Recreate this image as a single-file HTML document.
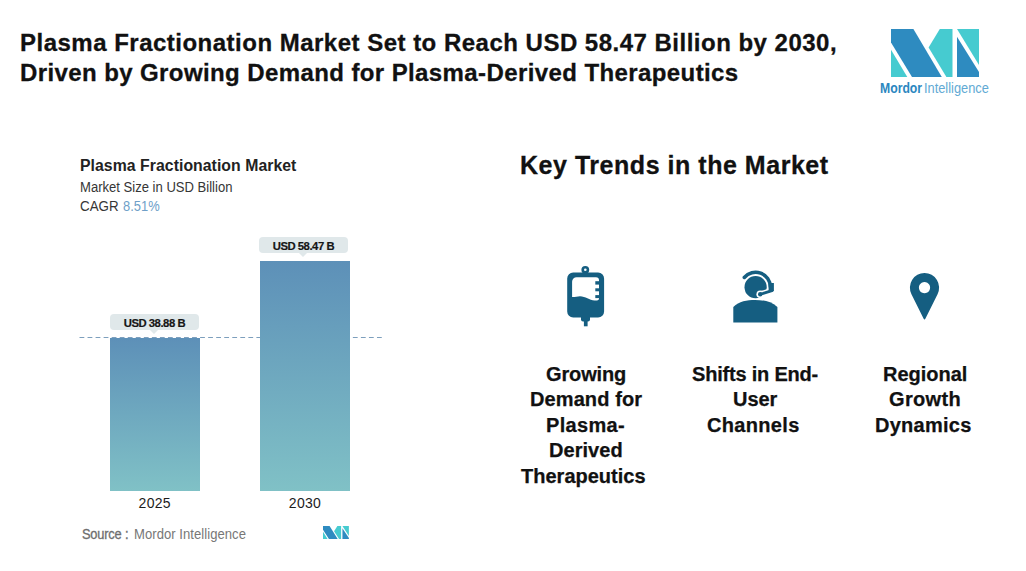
<!DOCTYPE html>
<html><head><meta charset="utf-8">
<style>
*{margin:0;padding:0;box-sizing:border-box}
html,body{width:1026px;height:571px;overflow:hidden;background:#fff;font-family:"Liberation Sans",sans-serif}
.a{position:absolute;white-space:nowrap}
.title{left:20px;font-weight:bold;font-size:24px;color:#111;line-height:30px;-webkit-text-stroke:0.3px #111}
.ct{left:80px;top:157px;font-weight:bold;font-size:15.8px;color:#222;letter-spacing:0.05px}
.sub{left:80px;font-size:15.2px;color:#363636;transform-origin:0 0;transform:scaleX(0.86)}
.bar{position:absolute;background:linear-gradient(#5d90b8,#80c1c6)}
.lbl{position:absolute;height:15.9px;background:#e0e8ea;border-radius:4px;font-weight:bold;font-size:11.3px;color:#161616;letter-spacing:-0.47px;text-align:center;line-height:18.1px;padding-left:0.6px;-webkit-text-stroke:0.2px #161616}
.lbl:after{content:"";position:absolute;left:50%;margin-left:-4px;top:15.9px;border-left:4.2px solid transparent;border-right:4.2px solid transparent;border-top:4.3px solid #e0e8ea}
.yr{font-size:14px;color:#1c1c1c;letter-spacing:0.3px}
.kt{left:520px;top:151px;font-weight:bold;font-size:25px;color:#111;letter-spacing:0.53px;-webkit-text-stroke:0.3px #111}
.cap{font-weight:bold;font-size:20px;line-height:22px;color:#111;-webkit-text-stroke:0.25px #111}
</style></head><body>
<div class="a title" style="top:27.5px;letter-spacing:0.49px">Plasma Fractionation Market Set to Reach USD 58.47 Billion by 2030,</div>
<div class="a title" style="top:57.5px;letter-spacing:0.40px">Driven by Growing Demand for Plasma-Derived Therapeutics</div>

<!-- logo -->
<svg class="a" style="left:891px;top:29px" width="88" height="48" viewBox="0 0 88 48">
<polygon fill="#2e8bc0" points="0,0 22.4,0 50.8,48 21,48 0,13.4"/>
<polygon fill="#46cbd0" points="0,20.7 0,48 16.3,48"/>
<polygon fill="#46cbd0" points="48.8,0 61.5,0 61.5,48 55.4,48 37.6,18.5"/>
<polygon fill="#46cbd0" points="66,0 88,0 88,36"/>
<polygon fill="#2e8bc0" points="66,7.8 66,48 88,48 88,43"/>
</svg>
<div id="m1" class="a" style="left:880.3px;top:80.2px;font-size:14.9px;font-weight:bold;color:#2b87bf;transform-origin:0 0;transform:scaleX(0.82)">Mordor</div>
<div id="m2" class="a" style="left:924px;top:80.2px;font-size:14.9px;color:#62aad4;transform-origin:0 0;transform:scaleX(0.86)">Intelligence</div>

<!-- chart -->
<div class="a ct">Plasma Fractionation Market</div>
<div id="s1" class="a sub" style="top:178px">Market Size in USD Billion</div>
<div id="s2" class="a sub" style="top:197px;transform:scaleX(0.88)">CAGR</div>
<div id="s3" class="a sub" style="top:197px;left:123px;color:#6f9fc8;transform:scaleX(0.85)">8.51%</div>

<svg class="a" style="left:0;top:330px" width="400" height="15"><line x1="79.5" y1="7.55" x2="382" y2="7.55" stroke="#7d9fbd" stroke-width="1.1" stroke-dasharray="4.8 3.24"/></svg>
<div class="bar" style="left:110px;top:337.5px;width:90px;height:153px"></div>
<div class="bar" style="left:260px;top:261px;width:90px;height:229.5px"></div>
<div class="lbl" style="left:109.6px;top:314px;width:89px">USD 38.88 B</div>
<div class="lbl" style="left:258.6px;top:237.3px;width:89px">USD 58.47 B</div>
<div class="a yr" style="left:138.6px;top:495px">2025</div>
<div class="a yr" style="left:288.8px;top:495px">2030</div>

<div id="src1" class="a" style="left:82px;top:526.5px;font-size:13.8px;color:#6e6e6e;letter-spacing:-0.2px;-webkit-text-stroke:0.3px #6e6e6e;transform-origin:0 0;transform:scaleX(0.93)">Source :</div>
<div id="src2" class="a" style="left:134px;top:526.5px;font-size:13.8px;color:#777;letter-spacing:0.05px;transform-origin:0 0;transform:scaleX(0.947)">Mordor Intelligence</div>
<svg class="a" style="left:323px;top:525.9px" width="25.9" height="13.4" viewBox="0 0 88 48" preserveAspectRatio="none">
<polygon fill="#2e8bc0" points="0,0 22.4,0 50.8,48 21,48 0,13.4"/>
<polygon fill="#46cbd0" points="0,20.7 0,48 16.3,48"/>
<polygon fill="#46cbd0" points="48.8,0 61.5,0 61.5,48 55.4,48 37.6,18.5"/>
<polygon fill="#46cbd0" points="66,0 88,0 88,36"/>
<polygon fill="#2e8bc0" points="66,7.8 66,48 88,48 88,43"/>
</svg>

<!-- trends -->
<div class="a kt">Key Trends in the Market</div>

<!-- IV bag -->
<svg class="a" style="left:555px;top:260px" width="60" height="75" viewBox="0 0 60 75">
<g fill="#155e81">
<circle cx="30.3" cy="9.8" r="3.9"/>
<path fill-rule="evenodd" d="M18.2,12.4 h24.9 a6,6 0 0 1 6,6 v33.2 a6,6 0 0 1 -6,6 h-24.9 a6,6 0 0 1 -6,-6 v-33.2 a6,6 0 0 1 6,-6 z
M21.6,17.2 h19.4 a3,3 0 0 1 3,3 v18.3 a2,2 0 0 1 -2,2 h-2.5 c-5,0 -9,-4.2 -14.5,-4.2 c-2.5,0 -4.5,0.8 -7.9,0.8 v-15.4 a4.5,4.5 0 0 1 4.5,-4.5 z"/>
<path d="M26,57 H35 V59.5 Q35,61.5 33,61.5 H28 Q26,61.5 26,59.5 Z"/>
<rect x="28.9" y="60" width="3.7" height="6.3"/>
</g>
<circle cx="30.3" cy="9.8" r="1.3" fill="#fff"/>
<g fill="#155e81">
<rect x="40.3" y="21.2" width="4.5" height="3.4"/>
<rect x="40.3" y="28.3" width="4.5" height="3"/>
<rect x="40.3" y="35.1" width="4.5" height="3"/>
</g>
</svg>

<!-- headset person -->
<svg class="a" style="left:725px;top:262px" width="60" height="68" viewBox="0 0 60 68">
<g fill="#155e81">
<circle cx="30.6" cy="25.2" r="11.1"/>
<path d="M8.3,45 C14,39 22,38 30,38 C38,38 46,39 52.4,45 V60.5 H8.3 Z"/>
</g>
<path d="M47,28.6 L35.2,32.3" fill="none" stroke="#fff" stroke-width="5.8" stroke-linecap="round"/>
<circle cx="35.2" cy="32.3" r="3.8" fill="#fff"/>
<path d="M19.3,15.5 A14.8,14.8 0 0 1 45.4,25" fill="none" stroke="#155e81" stroke-width="3.5" stroke-linecap="round"/>
<path d="M43.6,21 H48.9 V29 L46,30 H43.6 Z" fill="#155e81"/>
<path d="M47,28.6 L35.2,32.3" fill="none" stroke="#155e81" stroke-width="2.8" stroke-linecap="round"/>
<circle cx="35.2" cy="32.3" r="2.2" fill="#155e81"/>
</svg>

<!-- pin -->
<svg class="a" style="left:900px;top:265px" width="50" height="65" viewBox="0 0 50 65">
<path fill="#155e81" fill-rule="evenodd" d="M23.4,53.2 L11.45,29.14 A14.6,14.6 0 1 1 37.55,29.14 L25.6,53.2 Q24.5,55.6 23.4,53.2 Z M24.5,17 a5.6,5.6 0 1 0 0.01,0 z"/>
</svg>

<div id="c1" class="a cap" style="left:546px;top:362.8px;letter-spacing:-0.13px">Growing</div>
<div id="c2" class="a cap" style="left:530px;top:388.1px;letter-spacing:0.1px">Demand for</div>
<div id="c3" class="a cap" style="left:546px;top:413.9px;letter-spacing:0.33px">Plasma-</div>
<div id="c4" class="a cap" style="left:549px;top:439.3px;letter-spacing:0.05px">Derived</div>
<div id="c5" class="a cap" style="left:521px;top:464.8px;letter-spacing:0.01px">Therapeutics</div>
<div id="c6" class="a cap" style="left:692px;top:362.8px;letter-spacing:-0.2px">Shifts in End-</div>
<div id="c7" class="a cap" style="left:733px;top:388.1px;letter-spacing:-0.03px">User</div>
<div id="c8" class="a cap" style="left:707px;top:413.9px;letter-spacing:0.33px">Channels</div>
<div id="c9" class="a cap" style="left:883px;top:362.8px;letter-spacing:-0.01px">Regional</div>
<div id="c10" class="a cap" style="left:889px;top:388.1px;letter-spacing:0.34px">Growth</div>
<div id="c11" class="a cap" style="left:875px;top:413.9px;letter-spacing:0.27px">Dynamics</div>
</body></html>
